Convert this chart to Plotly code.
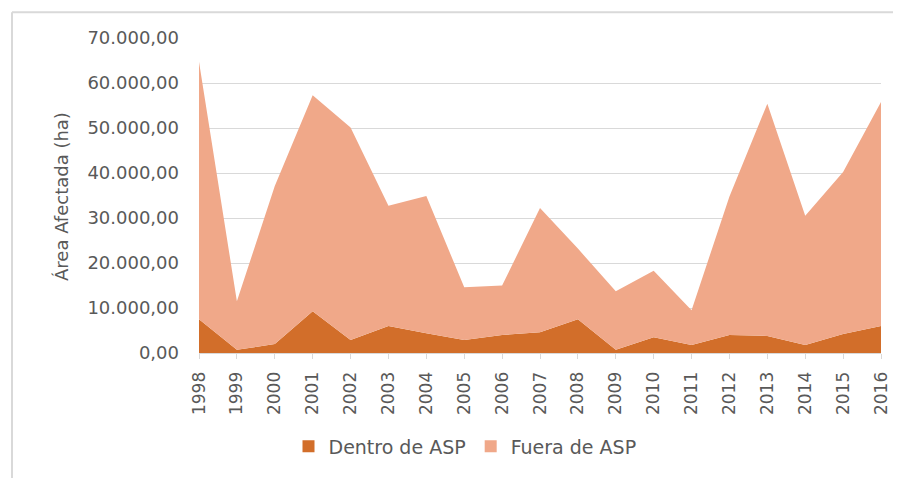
import plotly.graph_objects as go

years = list(range(1998, 2017))
total_area = [64700, 11500, 37100, 57300, 50100, 32700, 34900, 14600, 15000, 32200,
              23200, 13700, 18300, 9500, 34800, 55400, 30500, 40200, 55800]
dentro_asp = [7500, 700, 2000, 9300, 2900, 6000, 4400, 2900, 4000, 4600,
              7500, 700, 3500, 1800, 4000, 3800, 1800, 4200, 6000]
fuera_asp = [t - d for t, d in zip(total_area, dentro_asp)]

c_dentro = "#D26E2A"
c_fuera = "#F0A889"
txt = "#595959"
FONT = "DejaVu Sans"

fig = go.Figure()
fig.add_trace(go.Scatter(x=years, y=dentro_asp, stackgroup="a", mode="none",
                         fillcolor=c_dentro, name="Dentro de ASP", showlegend=False))
fig.add_trace(go.Scatter(x=years, y=fuera_asp, stackgroup="a", mode="none",
                         fillcolor=c_fuera, name="Fuera de ASP", showlegend=False))
for name, col in [("Dentro de ASP", c_dentro), ("Fuera de ASP", c_fuera)]:
    fig.add_trace(go.Scatter(x=[None], y=[None], mode="markers", name=name,
                             marker=dict(symbol="square", size=12, color=col)))

# page body has an 8px margin: work in page coords minus 8
OFF = 8
W, H = 901 - OFF, 478 - OFF
L, T = 199 - OFF, 38 - OFF
R = W - (881 - OFF)
B = H - (355 - OFF)
pw, ph = W - L - R, H - T - B

def px(x):
    return (x - OFF - L) / pw

def py(y):
    return 1 - (y - OFF - T) / ph

fig.update_layout(
    width=W, height=H, margin=dict(l=L, r=R, t=T, b=B, pad=0),
    paper_bgcolor="white", plot_bgcolor="white",
    separators=",.",
    font=dict(family=FONT, color=txt, size=16),
    showlegend=True,
    legend=dict(orientation="h", x=px(465), xanchor="center",
                y=py(449), yanchor="middle", traceorder="normal",
                font=dict(family=FONT, size=19, color=txt), itemwidth=30, tracegroupgap=0),
    xaxis=dict(range=[1998, 2016], tickmode="array", tickvals=years,
               ticktext=[str(y) for y in years], tickangle=-90, automargin=False,
               showgrid=False, zeroline=False, showline=True, linecolor="#D9D9D9",
               ticks="outside", ticklen=5, tickcolor="#D9D9D9", ticklabelstandoff=6,
               tickfont=dict(family=FONT, size=17, color=txt)),
    yaxis=dict(range=[0, 70000], dtick=10000, tickformat=",.2f", automargin=False,
               gridcolor="#D9D9D9", zeroline=False, showline=False,
               ticks="", ticklabelstandoff=19,
               tickfont=dict(family=FONT, size=18, color=txt)),
    annotations=[
        dict(text="Área Afectada (ha)", xref="paper", yref="paper",
             x=px(62), y=py(198), xanchor="center", yanchor="middle",
             textangle=-90, showarrow=False, font=dict(family=FONT, size=18, color=txt)),
    ],
    shapes=[
        dict(type="line", xref="paper", yref="paper",
             x0=px(12), x1=px(910), y0=py(12), y1=py(12),
             line=dict(color="#D9D9D9", width=2)),
        dict(type="line", xref="paper", yref="paper",
             x0=px(12), x1=px(12), y0=py(12), y1=py(490),
             line=dict(color="#D9D9D9", width=2)),
    ],
)
fig.write_html("out.html")
